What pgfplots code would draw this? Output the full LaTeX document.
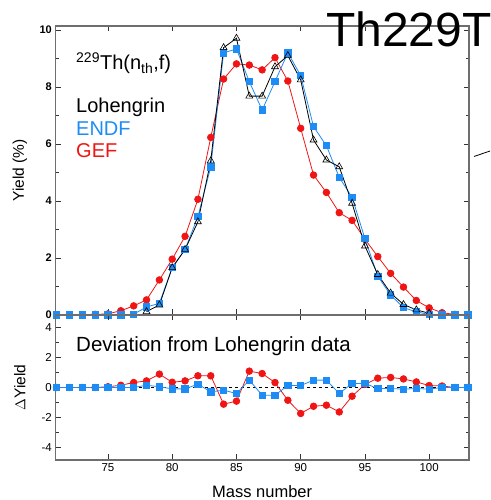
\documentclass[border=0pt]{standalone}
\usepackage{pgfplots}
\pgfplotsset{compat=1.18}
\usepackage{fontspec}
\setmainfont{Liberation Sans}
\setsansfont{Liberation Sans}
\definecolor{endf}{RGB}{30,140,245}
\definecolor{gef}{RGB}{240,20,20}
\definecolor{framec}{RGB}{110,110,110}

\pgfplotstableread{
A y
71 0
72 0
73 0
74 0.02
75 0.04
76 0.15
77 0.32
78 0.53
79 1.23
80 1.96
81 2.76
82 4.06
83 6.23
84 8.28
85 8.81
86 8.77
87 8.60
88 9.03
89 8.21
90 6.55
91 4.91
92 4.30
93 3.59
94 3.32
95 2.66
96 2.05
97 1.46
98 0.98
99 0.51
100 0.25
101 0.08
102 0.02
103 0
}\gef

\pgfplotstableread{
A y
71 0
72 0
73 0
74 0
75 0
76 0
77 0.03
78 0.28
79 0.41
80 1.66
81 2.30
82 3.45
83 5.20
84 9.20
85 9.33
86 8.19
87 7.19
88 8.19
89 9.20
90 8.40
91 6.61
92 5.94
93 4.83
94 4.13
95 2.68
96 1.36
97 0.70
98 0.26
99 0.11
100 0.02
101 0
102 0
103 0
}\endf

\pgfplotstableread{
A y
78 0.12
79 0.35
80 1.66
81 2.30
82 3.27
83 5.41
84 9.38
85 9.71
86 7.68
87 7.68
88 8.71
89 9.10
90 8.25
91 6.14
92 5.44
93 5.20
94 3.92
95 2.42
96 1.42
97 0.77
98 0.37
99 0.18
100 0.06
}\loh

\pgfplotstableread{
A y
71 0
72 0
73 0
74 0
75 0.05
76 0.15
77 0.33
78 0.44
79 0.89
80 0.35
81 0.44
82 0.78
83 0.78
84 -1.11
85 -0.91
86 1.09
87 0.93
88 0.33
89 -0.85
90 -1.73
91 -1.25
92 -1.18
93 -1.63
94 -0.58
95 0.20
96 0.62
97 0.67
98 0.57
99 0.37
100 0.13
101 0.10
102 0
103 0
}\dgef

\pgfplotstableread{
A y
71 0
72 0
73 0
74 0
75 0
76 0
77 0
78 0.15
79 0.05
80 -0.09
81 -0.09
82 0.22
83 -0.29
84 -0.18
85 -0.40
86 0.49
87 -0.51
88 -0.51
89 0.13
90 0.13
91 0.49
92 0.49
93 -0.40
94 0.27
95 0.27
96 -0.07
97 -0.07
98 -0.11
99 -0.07
100 -0.11
101 0
102 0
103 0
}\dendf

\begin{document}
\begin{tikzpicture}[x=1pt,y=1pt]
\useasboundingbox (0,0) rectangle (490,500);
\pgfplotsset{
  common/.style={
    scale only axis, width=413.7pt,
    xmin=70.9, xmax=103.1,
    xtick={75,80,...,100},
    axis line style={framec, line width=1.1pt},
    tick style={black!80, line width=0.7pt},
    tick align=inside,
    major tick length=5.5pt, minor tick length=3.5pt,
    /pgf/number format/assume math mode=true,
    ticklabel style={font=\fontsize{11.5}{11.5}\selectfont},
    ytick pos=both, xtick pos=both,
    yticklabel pos=left,
    ylabel style={at={(axis description cs:-0.0855,0.5)}, anchor=center, font=\fontsize{15.5}{16}\selectfont},
  },
}
\begin{axis}[common, at={(55.3pt,185pt)}, anchor=south west,
  height=289pt, ymin=0, ymax=10.14,
  ytick={0,2,...,10}, minor ytick={1,3,...,9},
  xticklabels={},
  yticklabel style={font=\bfseries\fontsize{11}{11}\selectfont},
  ylabel={Yield (\%)},
]
\addplot[gef, line width=0.8pt, mark=*, mark size=3.3pt] table[x=A,y=y] {\gef};
\addplot[endf, line width=0.8pt, mark=square*, mark size=3.2pt] table[x=A,y=y] {\endf};
\addplot[black, line width=0.8pt, mark=triangle, mark size=4pt, mark options={fill=white, line width=0.6pt}] table[x=A,y=y] {\loh};
\end{axis}
\begin{axis}[common, at={(55.3pt,40pt)}, anchor=south west,
  height=145pt, ymin=-4.83, ymax=4.83,
  ytick={-4,-2,...,4}, minor ytick={-3,-1,1,3},
  xlabel={Mass number},
  xlabel style={at={(axis description cs:0.5,-0.26)}, anchor=base, font=\fontsize{16.5}{17}\selectfont},
  ylabel={$\Delta$Yield},
]
\addplot[black, dashed, line width=0.7pt] coordinates {(70.9,0) (103.1,0)};
\addplot[gef, line width=0.8pt, mark=*, mark size=3.3pt] table[x=A,y=y] {\dgef};
\addplot[endf, line width=0.8pt, mark=square*, mark size=3.2pt] table[x=A,y=y] {\dendf};
\end{axis}
\node[anchor=base west, inner sep=0pt, font=\fontsize{20}{22}\selectfont] at (76,430) {\textsuperscript{229}Th(n\textsubscript{th},f)};
\node[anchor=base west, inner sep=0pt, font=\fontsize{20}{22}\selectfont] at (76,387) {Lohengrin};
\node[anchor=base west, inner sep=0pt, font=\fontsize{20}{22}\selectfont, text=endf] at (76,364) {ENDF};
\node[anchor=base west, inner sep=0pt, font=\fontsize{20}{22}\selectfont, text=gef] at (76,342) {GEF};
\node[anchor=base west, inner sep=0pt, font=\fontsize{20.5}{22}\selectfont] at (76,148.3) {Deviation from Lohengrin data};
\node[anchor=base west, inner sep=0pt, font=\fontsize{48}{50}\selectfont] at (326,453) {Th229T};
\draw[black, line width=0.8pt] (474,343.5) -- (490,349);
\end{tikzpicture}
\end{document}
